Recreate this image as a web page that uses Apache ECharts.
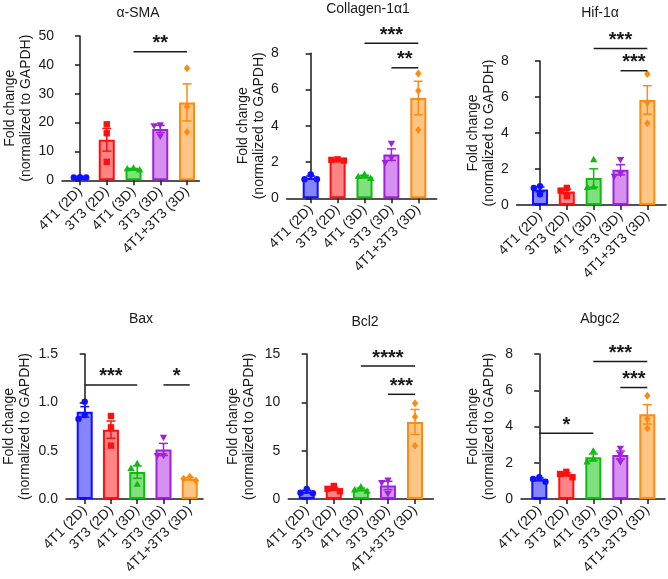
<!DOCTYPE html>
<html><head><meta charset="utf-8">
<script src="https://cdn.jsdelivr.net/npm/echarts@6/dist/echarts.min.js"></script>
<style>html,body{margin:0;padding:0;background:#fff}#c{width:668px;height:579px}</style>
</head><body><div id="c"></div>
<script>
// ---------- DATA ----------
const categories = ['4T1 (2D)', '3T3 (2D)', '4T1 (3D)', '3T3 (3D)', '4T1+3T3 (3D)'];
const panelTitles = ['α-SMA', 'Collagen-1α1', 'Hif-1α', 'Bax', 'Bcl2', 'Abgc2'];
const yAxisName = 'Fold change\n(normalized to GAPDH)';
// replicate values per group (3 per group)
const smaPoints    = [[1.0, 0.95, 1.05], [19.4, 16.3, 6.4], [4.2, 4.0, 3.6], [19.2, 18.9, 15.3], [38.8, 25.5, 16.7]];
const col1a1Points = [[1.32, 1.05, 1.05], [2.15, 2.12, 2.08], [1.32, 1.2, 1.1], [3.03, 2.23, 1.97], [6.89, 5.94, 3.77]];
const hifPoints    = [[1.05, 0.95, 0.6], [0.95, 0.8, 0.5], [2.52, 1.0, 0.98], [2.52, 1.75, 1.6], [7.28, 5.69, 4.54]];
const baxPoints    = [[1.007, 0.869, 0.828], [0.859, 0.741, 0.552], [0.366, 0.317, 0.152], [0.638, 0.45, 0.45], [0.23, 0.21, 0.19]];
const bcl2Points   = [[1.05, 0.65, 0.6], [1.35, 1.05, 0.8], [1.25, 0.95, 0.8], [1.95, 1.7, 0.55], [9.9, 8.5, 5.5]];
const abcg2Points  = [[1.2, 1.1, 0.95], [1.5, 1.38, 1.2], [2.65, 2.2, 2.05], [2.8, 2.45, 2.05], [5.7, 4.41, 3.9]];
// significance brackets: [fromGroup, toGroup, y value, label]
const smaSig    = [[2, 4, 44.5, '**']];
const col1a1Sig = [[2, 4, 8.55, '***'], [3, 4, 7.2, '**']];
const hifSig    = [[2, 4, 8.7, '***'], [3, 4, 7.46, '***']];
const baxSig    = [[0, 2, 1.18, '***'], [3, 4, 1.18, '*']];
const bcl2Sig   = [[2, 4, 13.76, '****'], [3, 4, 10.83, '***']];
const abcg2Sig  = [[0, 2, 3.63, '*'], [2, 4, 7.58, '***'], [3, 4, 6.15, '***']];
// y axis ticks
const yMaxes = [50, 8, 8, 1.5, 15, 8];
const ySteps = [10, 2, 2, 0.5, 5, 2];

const allPoints = [smaPoints, col1a1Points, hifPoints, baxPoints, bcl2Points, abcg2Points];
const allSig = [smaSig, col1a1Sig, hifSig, baxSig, bcl2Sig, abcg2Sig];

// ---------- LAYOUT / STYLE ----------
const FONT = 'Liberation Sans, Arial, Helvetica, sans-serif';
const INK = '#1a1a1a';
const strokes = ['#1010ff', '#ff1010', '#10bb10', '#a020e0', '#ff8a10'];
const fills   = ['#8585ff', '#ff8585', '#80e080', '#d690f0', '#ffc585'];
const symbols = ['circle', 'square', 'triUp', 'triDown', 'diamond'];
// ax: y-axis x, c0: first group center, sp: group spacing, rEnd: x axis end, top/bottom: y px of max/0
const layout = [
  {ax: 62,    c0: 80,    sp: 26.75, rEnd: 199.3, top: 36,   bottom: 180.3, gap: 26, tx: 133, ty: 1},
  {ax: 286.7, c0: 310.7, sp: 26.9,  rEnd: 436.7, top: 53.3, bottom: 198.3, gap: 19, tx: 363, ty: -3},
  {ax: 516.7, c0: 540,   sp: 26.83, rEnd: 666,   top: 61,   bottom: 205,   gap: 19, tx: 595, ty: 1},
  {ax: 61.7,  c0: 81,    sp: 27.08, rEnd: 203,   top: 354,  bottom: 499,   gap: 33, tx: 136, ty: 307},
  {ax: 288.3, c0: 306.7, sp: 27.08, rEnd: 433.3, top: 354,  bottom: 499,   gap: 31, tx: 360, ty: 310},
  {ax: 521,   c0: 539.3, sp: 27,    rEnd: 665,   top: 354,  bottom: 499,   gap: 24, tx: 595, ty: 307}
];

function mean(a) { return a.reduce((s, v) => s + v, 0) / a.length; }
function sem(a) {
  const m = mean(a);
  const v = a.reduce((s, x) => s + (x - m) * (x - m), 0) / (a.length - 1);
  return Math.sqrt(v) / Math.sqrt(a.length);
}

function markerShape(kind, x, y, r) {
  if (kind === 'circle') return {type: 'circle', shape: {cx: x, cy: y, r: r}};
  if (kind === 'square') return {type: 'rect', shape: {x: x - r, y: y - r, width: 2 * r, height: 2 * r}};
  if (kind === 'triUp') return {type: 'polygon', shape: {points: [[x, y - r * 1.2], [x + r * 1.15, y + r * 0.8], [x - r * 1.15, y + r * 0.8]]}};
  if (kind === 'triDown') return {type: 'polygon', shape: {points: [[x, y + r * 1.2], [x + r * 1.15, y - r * 0.8], [x - r * 1.15, y - r * 0.8]]}};
  return {type: 'polygon', shape: {points: [[x, y - r * 1.25], [x + r * 1.0, y], [x, y + r * 1.25], [x - r * 1.0, y]]}};
}

const grids = [], xAxes = [], yAxes = [], series = [], titles = [];
layout.forEach((L, p) => {
  grids.push({left: L.ax, top: L.top, width: L.rEnd - L.ax, height: L.bottom - L.top, containLabel: false});
  titles.push({text: panelTitles[p], left: L.tx, top: L.ty, textAlign: 'center',
    textStyle: {fontFamily: FONT, fontSize: 14, fontWeight: 'normal', color: INK}});
  xAxes.push({
    type: 'value', gridIndex: p,
    min: (L.ax - L.c0) / L.sp, max: (L.rEnd - L.c0) / L.sp,
    axisLine: {show: true, lineStyle: {color: INK, width: 1.5}},
    axisTick: {show: true, customValues: [0, 1, 2, 3, 4], length: 5, lineStyle: {color: INK, width: 1.5}},
    axisLabel: {customValues: [0, 1, 2, 3, 4], formatter: v => categories[Math.round(v)],
      rotate: 45, margin: 9, fontFamily: FONT, fontSize: 14, color: INK},
    splitLine: {show: false}
  });
  yAxes.push({
    type: 'value', gridIndex: p, min: 0, max: yMaxes[p], interval: ySteps[p],
    name: yAxisName, nameLocation: 'middle', nameGap: L.gap,
    nameTextStyle: {fontFamily: FONT, fontSize: 14, lineHeight: 16, color: INK},
    axisLine: {show: true, lineStyle: {color: INK, width: 1.5}},
    axisTick: {show: true, length: 5, lineStyle: {color: INK, width: 1.5}},
    axisLabel: {margin: 8, fontFamily: FONT, fontSize: 14, color: INK,
      formatter: v => (ySteps[p] < 1 ? v.toFixed(1) : String(v))},
    splitLine: {show: false}
  });
  const pts = allPoints[p];
  // bars
  series.push({
    type: 'bar', xAxisIndex: p, yAxisIndex: p, barWidth: 16, animation: false,
    data: pts.map((g, i) => ({value: [i, mean(g)],
      itemStyle: {color: fills[i], borderColor: strokes[i], borderWidth: 2}}))
  });
  // error bars + replicate points
  series.push({
    type: 'custom', xAxisIndex: p, yAxisIndex: p, clip: false, animation: false, z: 5,
    encode: {x: 0, y: 1},
    data: pts.map((g, i) => [i, mean(g), sem(g)].concat(g)),
    renderItem: function (params, api) {
      const i = api.value(0), m = api.value(1), s = api.value(2);
      const c = api.coord([i, m]);
      const t = api.coord([i, m + s]);
      const b = api.coord([i, Math.max(0, m - s)]);
      const col = strokes[i];
      const ls = {stroke: col, lineWidth: 1.5};
      const ch = [
        {type: 'line', shape: {x1: c[0], y1: t[1], x2: c[0], y2: b[1]}, style: ls},
        {type: 'line', shape: {x1: c[0] - 4.5, y1: t[1], x2: c[0] + 4.5, y2: t[1]}, style: ls},
        {type: 'line', shape: {x1: c[0] - 4.5, y1: b[1], x2: c[0] + 4.5, y2: b[1]}, style: ls}
      ];
      const g = pts[i];
      const ys = g.map(v => api.coord([i, v])[1]).sort((a, b2) => a - b2);
      const placed = [];
      const d = 6.2, r = 3.2;
      ys.forEach(y => {
        const cand = [0, -d, d, -2 * d, 2 * d];
        let off = 0;
        for (const o of cand) {
          if (placed.every(pp => Math.hypot(pp[0] - o, pp[1] - y) >= 6)) { off = o; break; }
        }
        placed.push([off, y]);
        const sh = markerShape(symbols[i], c[0] + off, y, r);
        sh.style = {fill: col};
        ch.push(sh);
      });
      return {type: 'group', children: ch};
    }
  });
  // significance brackets
  const sig = allSig[p];
  series.push({
    type: 'custom', xAxisIndex: p, yAxisIndex: p, clip: false, animation: false, z: 6,
    encode: {x: 0, y: 2},
    data: sig.map(s => [s[0], s[1], s[2]]),
    renderItem: function (params, api) {
      const a = api.coord([api.value(0), api.value(2)]);
      const bb = api.coord([api.value(1), api.value(2)]);
      return {type: 'group', children: [
        {type: 'line', shape: {x1: a[0], y1: a[1], x2: bb[0], y2: bb[1]}, style: {stroke: INK, lineWidth: 1.5}},
        {type: 'text', style: {text: sig[params.dataIndex][3], x: (a[0] + bb[0]) / 2, y: a[1] + 2,
          textAlign: 'center', textVerticalAlign: 'bottom', font: 'bold 20px ' + FONT, fill: INK}}
      ]};
    }
  });
});

const chart = echarts.init(document.getElementById('c'), null, {renderer: 'canvas'});
chart.setOption({
  animation: false, backgroundColor: '#ffffff',
  title: titles, grid: grids, xAxis: xAxes, yAxis: yAxes, series: series
});
</script>
</body></html>
